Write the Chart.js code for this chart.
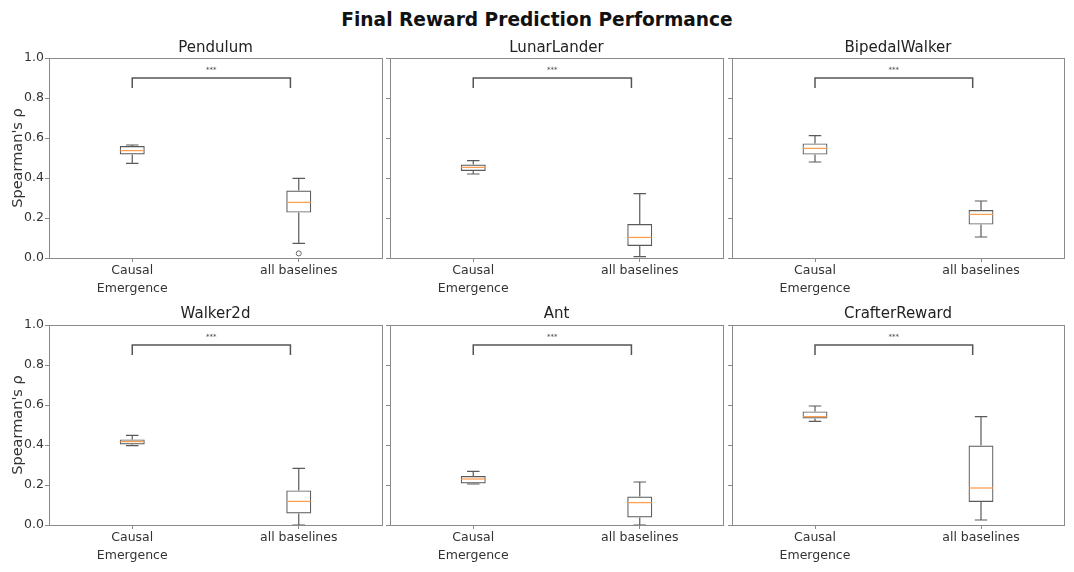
<!DOCTYPE html>
<html><head><meta charset="utf-8">
<script src="https://cdn.jsdelivr.net/npm/chart.js@4.4.0/dist/chart.umd.min.js"></script>
<style>
html,body{margin:0;padding:0;background:#fff;}
body{width:1074px;height:572px;position:relative;overflow:hidden;font-family:"DejaVu Sans",sans-serif;}
#sup{position:absolute;left:0;width:1074px;top:9.5px;line-height:20px;text-align:center;font-weight:bold;font-size:18.6px;color:#111;}
canvas{position:absolute;}
</style></head><body>
<div id="sup">Final Reward Prediction Performance</div>
<script>
// ---- data ----
const envNames = ['Pendulum', 'LunarLander', 'BipedalWalker', 'Walker2d', 'Ant', 'CrafterReward'];
const groupLabels = [['Causal', 'Emergence'], 'all baselines'];
const yTickValues = [0, 0.2, 0.4, 0.6, 0.8, 1.0];
const yLabel = "Spearman's \u03C1";

// Causal Emergence box stats per environment
const ceLow  = [0.473, 0.420, 0.480, 0.397, 0.205, 0.518];
const ceQ1   = [0.518, 0.435, 0.517, 0.403, 0.208, 0.533];
const ceMed  = [0.537, 0.453, 0.548, 0.417, 0.230, 0.542];
const ceQ3   = [0.560, 0.467, 0.573, 0.428, 0.245, 0.568];
const ceHigh = [0.565, 0.487, 0.612, 0.448, 0.268, 0.595];

// all baselines box stats per environment
const baseLow  = [0.073, 0.007, 0.105, 0.000, 0.000, 0.025];
const baseQ1   = [0.227, 0.060, 0.167, 0.058, 0.038, 0.115];
const baseMed  = [0.278, 0.103, 0.218, 0.118, 0.112, 0.185];
const baseQ3   = [0.337, 0.170, 0.240, 0.173, 0.142, 0.397];
const baseHigh = [0.398, 0.322, 0.285, 0.283, 0.215, 0.542];
const baseOutliers = [[0.023], [], [], [], [], []];

// significance annotation (data units)
const sigLabel = '***';
const sigFrom = 1, sigTo = 1.95, sigLevel = 0.90, sigLeg = 0.85, sigTextLevel = 0.94;

// ---- layout (pixels) ----
const FONT = "'DejaVu Sans', sans-serif";
const panels = [
  {left: 0,   top: 30,  w: 386, h: 270, yW: 49, padR: 4,  tTop: 9.5, tBot: 0.5},
  {left: 386, top: 30,  w: 342, h: 270, yW: 4,  padR: 5,  tTop: 9.5, tBot: 0.5},
  {left: 728, top: 30,  w: 346, h: 270, yW: 4,  padR: 10, tTop: 9.5, tBot: 0.5},
  {left: 0,   top: 300, w: 386, h: 267, yW: 49, padR: 4,  tTop: 5, tBot: 2},
  {left: 386, top: 300, w: 342, h: 267, yW: 4,  padR: 5,  tTop: 5, tBot: 2},
  {left: 728, top: 300, w: 346, h: 267, yW: 4,  padR: 10, tTop: 5, tBot: 2}
];
const FRAME = '#8a8a8a', BOXC = '#5a5a5a', MEDC = '#fb9f52';

const boxExtras = {
  id: 'boxExtras',
  afterDatasetsDraw(chart, args, opts) {
    const i = opts.env;
    const {ctx, chartArea: a} = chart;
    const x = chart.scales.x, y = chart.scales.y;
    const meta = chart.getDatasetMeta(0);
    const groups = [
      {low: ceLow[i], q1: ceQ1[i], med: ceMed[i], q3: ceQ3[i], high: ceHigh[i], out: []},
      {low: baseLow[i], q1: baseQ1[i], med: baseMed[i], q3: baseQ3[i], high: baseHigh[i], out: baseOutliers[i]}
    ];
    ctx.save();
    groups.forEach((g, k) => {
      const px = x.getPixelForValue(k + 1);
      const bw = meta.data[k].width;
      const cw = bw / 4;
      ctx.strokeStyle = BOXC; ctx.lineWidth = 1.2;
      ctx.beginPath();
      ctx.moveTo(px, y.getPixelForValue(g.q3)); ctx.lineTo(px, y.getPixelForValue(g.high));
      ctx.moveTo(px, y.getPixelForValue(g.q1)); ctx.lineTo(px, y.getPixelForValue(g.low));
      ctx.moveTo(px - cw, y.getPixelForValue(g.high)); ctx.lineTo(px + cw, y.getPixelForValue(g.high));
      ctx.moveTo(px - cw, y.getPixelForValue(g.low)); ctx.lineTo(px + cw, y.getPixelForValue(g.low));
      ctx.stroke();
      ctx.strokeStyle = MEDC; ctx.lineWidth = 1.3;
      ctx.beginPath();
      ctx.moveTo(px - bw / 2 + 0.6, y.getPixelForValue(g.med)); ctx.lineTo(px + bw / 2 - 0.6, y.getPixelForValue(g.med));
      ctx.stroke();
      ctx.strokeStyle = '#666'; ctx.lineWidth = 1;
      g.out.forEach(v => {
        ctx.beginPath();
        ctx.arc(px, y.getPixelForValue(v), 2.5, 0, Math.PI * 2);
        ctx.stroke();
      });
    });
    // significance bracket
    const bx1 = x.getPixelForValue(sigFrom), bx2 = x.getPixelForValue(sigTo);
    ctx.strokeStyle = '#555'; ctx.lineWidth = 1.5;
    ctx.beginPath();
    ctx.moveTo(bx1, y.getPixelForValue(sigLeg));
    ctx.lineTo(bx1, y.getPixelForValue(sigLevel));
    ctx.lineTo(bx2, y.getPixelForValue(sigLevel));
    ctx.lineTo(bx2, y.getPixelForValue(sigLeg));
    ctx.stroke();
    ctx.fillStyle = '#444';
    ctx.font = '7px ' + FONT;
    ctx.textAlign = 'center'; ctx.textBaseline = 'middle';
    ctx.fillText(sigLabel, x.getPixelForValue((sigFrom + sigTo) / 2), y.getPixelForValue(sigTextLevel));
    // frame
    ctx.strokeStyle = FRAME; ctx.lineWidth = 1;
    ctx.strokeRect(Math.round(a.left) + 0.5, Math.round(a.top) + 0.5, Math.round(a.width), Math.round(a.height));
    ctx.restore();
  }
};

Chart.defaults.font.family = FONT;
Chart.defaults.color = '#333';

panels.forEach((p, i) => {
  const cv = document.createElement('canvas');
  cv.width = p.w; cv.height = p.h;
  cv.style.left = p.left + 'px'; cv.style.top = p.top + 'px';
  cv.style.width = p.w + 'px'; cv.style.height = p.h + 'px';
  document.body.appendChild(cv);
  const showY = p.yW > 10;
  new Chart(cv.getContext('2d'), {
    type: 'bar',
    data: {
      datasets: [{
        data: [{x: 1, y: [ceQ1[i], ceQ3[i]]}, {x: 2, y: [baseQ1[i], baseQ3[i]]}],
        backgroundColor: 'rgba(255,255,255,0)',
        borderColor: BOXC,
        borderWidth: 1.2,
        borderSkipped: false,
        categoryPercentage: 1,
        barPercentage: 0.15
      }]
    },
    options: {
      responsive: false,
      animation: false,
      events: [],
      layout: {padding: {left: 0, right: p.padR, top: 0, bottom: 0}},
      plugins: {
        legend: {display: false},
        tooltip: {enabled: false},
        title: {
          display: true, text: envNames[i], fullSize: false, color: '#222',
          font: {family: FONT, size: 15, weight: 'normal', lineHeight: 1.2},
          padding: {top: p.tTop, bottom: p.tBot}
        },
        boxExtras: {env: i}
      },
      scales: {
        x: {
          type: 'linear', min: 0.5, max: 2.5, offset: false,
          afterBuildTicks: s => { s.ticks = [{value: 1}, {value: 2}]; },
          afterFit: s => { s.height = 42; },
          ticks: {
            callback: (v, idx) => groupLabels[idx],
            font: {size: 12.5, lineHeight: 1.4}, padding: 0, color: '#333', maxRotation: 0, autoSkip: false
          },
          grid: {offset: false, drawOnChartArea: false, drawTicks: true, tickLength: 4, color: FRAME},
          border: {display: true, color: FRAME}
        },
        y: {
          type: 'linear', min: 0, max: 1,
          afterBuildTicks: s => { s.ticks = yTickValues.map(v => ({value: v})); },
          afterFit: s => { s.width = p.yW; },
          ticks: {
            display: showY,
            callback: v => v.toFixed(1),
            font: {size: 12.5}, padding: 1, color: '#333'
          },
          title: {
            display: showY, text: yLabel, color: '#333',
            font: {size: 14.5, lineHeight: 1.2}, padding: {top: 10, bottom: 0}
          },
          grid: {offset: false, drawOnChartArea: false, drawTicks: true, tickLength: 4, color: FRAME},
          border: {display: true, color: FRAME}
        }
      }
    },
    plugins: [boxExtras]
  });
});
</script>
</body></html>
